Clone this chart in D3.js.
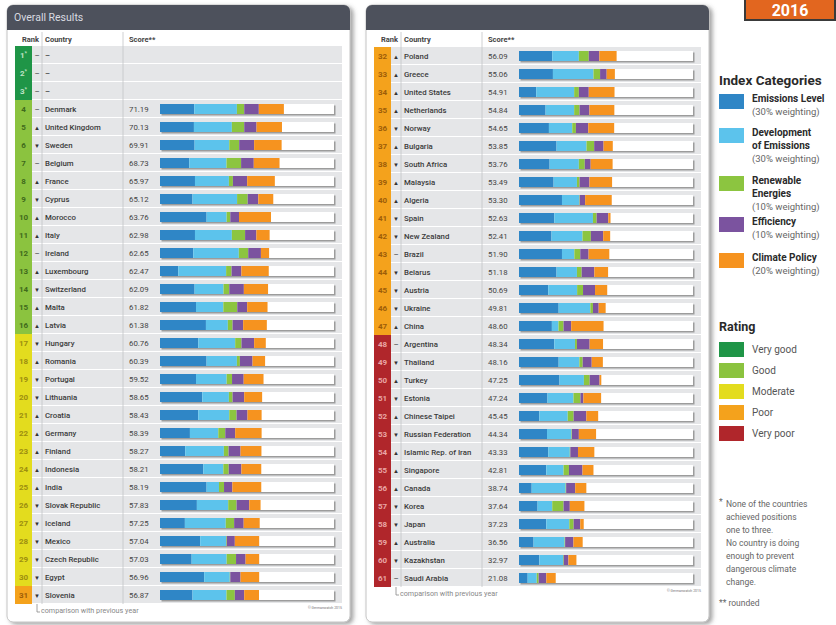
<!DOCTYPE html>
<html>
<head>
<meta charset="utf-8">
<script src="https://cdn.jsdelivr.net/npm/d3@7"></script>
<style>
  body { margin: 0; background: #fff; }
  text { font-family: Roboto, "Open Sans", sans-serif; }
</style>
</head>
<body>
<div id="chart"></div>
<script>
const rankLabels = ["1*","2*","3*","4","5","6","7","8","9","10","11","12","13","14","15","16","17","18","19","20",
  "21","22","23","24","25","26","27","28","29","30","31","32","33","34","35","36","37","38","39","40",
  "41","42","43","44","45","46","47","48","49","50","51","52","53","54","55","56","57","58","59","60","61"];

const countries = ["–","–","–","Denmark","United Kingdom","Sweden","Belgium","France","Cyprus","Morocco","Italy",
  "Ireland","Luxembourg","Switzerland","Malta","Latvia","Hungary","Romania","Portugal","Lithuania","Croatia",
  "Germany","Finland","Indonesia","India","Slovak Republic","Iceland","Mexico","Czech Republic","Egypt","Slovenia",
  "Poland","Greece","United States","Netherlands","Norway","Bulgaria","South Africa","Malaysia","Algeria","Spain",
  "New Zealand","Brazil","Belarus","Austria","Ukraine","China","Argentina","Thailand","Turkey","Estonia",
  "Chinese Taipei","Russian Federation","Islamic Rep. of Iran","Singapore","Canada","Korea","Japan","Australia",
  "Kazakhstan","Saudi Arabia"];

// u = up, d = down, s = unchanged
const trends = ["s","s","s","s","u","d","s","u","d","u","u","s","u","d","u","u","d","u","d","d",
  "u","u","u","u","u","d","d","d","d","d","d",
  "u","u","u","u","d","u","d","u","u","d","d","s","d","d","d","u","s","d","u","d",
  "u","d","u","u","u","d","d","u","d","s"];

const scores = [null,null,null,71.19,70.13,69.91,68.73,65.97,65.12,63.76,62.98,62.65,62.47,62.09,61.82,61.38,
  60.76,60.39,59.52,58.65,58.43,58.39,58.27,58.21,58.19,57.83,57.25,57.04,57.03,56.96,56.87,
  56.09,55.06,54.91,54.84,54.65,53.85,53.76,53.49,53.30,52.63,52.41,51.90,51.18,50.69,49.81,48.60,
  48.34,48.16,47.25,47.24,45.45,44.34,43.33,42.81,38.74,37.64,37.23,36.56,32.97,21.08];

const emissionsLevel = [null,null,null,19.7,19.5,19.9,16.8,20.1,18.7,26.8,20.1,19.1,10.5,19.9,20.7,26.4,22.0,26.8,
  20.7,24.3,22.0,17.2,14.5,24.9,26.8,21.2,14.3,23.1,18.2,25.4,18.7,
  19.1,19.5,9.9,15.3,17.2,21.6,17.6,19.9,24.7,20.3,18.7,24.7,21.6,16.8,22.8,18.9,20.3,22.8,23.3,16.4,
  11.7,16.1,16.8,15.7,7.3,10.7,15.7,8.4,11.7,5.0];
const emissionsDev = [null,null,null,24.5,21.8,19.9,21.4,19.5,25.6,11.5,21.2,26.2,27.5,16.6,15.7,12.6,21.2,17.4,
  17.6,15.3,17.8,16.3,22.2,11.5,7.1,18.0,23.5,14.9,20.1,14.7,19.5,
  15.3,23.3,21.8,16.4,13.4,17.2,16.8,13.4,9.9,22.2,17.8,7.1,11.7,16.6,18.2,3.8,11.9,11.9,14.0,14.9,
  16.3,14.0,12.4,9.9,19.5,8.4,13.2,17.8,13.6,5.2];
const renewables = [null,null,null,4.2,7.1,5.7,8.4,2.3,6.1,2.1,7.6,5.4,3.1,3.3,8.0,2.7,3.6,1.7,
  3.1,2.1,4.2,4.0,2.7,3.1,2.9,4.8,4.8,0.4,5.4,0.3,4.8,
  5.7,3.8,2.7,3.1,2.1,4.4,3.4,1.5,0.3,2.1,4.8,3.4,2.7,3.4,1.5,2.9,1.1,1.9,3.3,4.0,
  3.4,0.3,0.3,3.1,0.3,6.5,2.5,0.3,0.4,1.1];
const efficiency = [null,null,null,8.4,7.1,8.6,7.3,8.2,6.1,5.0,6.5,7.3,5.7,8.4,5.7,6.1,7.3,7.3,
  6.7,6.7,6.3,5.7,6.9,7.3,4.8,7.3,5.5,4.6,5.5,5.9,5.4,
  6.1,3.8,5.7,5.7,7.1,5.4,3.4,5.7,3.1,6.7,7.1,4.8,7.3,6.9,3.3,4.4,7.3,5.2,5.7,1.7,
  7.3,4.0,4.4,7.8,5.2,3.6,3.8,4.8,2.7,4.4];
const climatePolicy = [null,null,null,14.4,14.6,15.8,14.8,15.9,8.6,18.4,7.6,4.7,15.7,13.9,11.7,13.6,6.7,7.2,
  11.4,10.3,8.1,15.2,12.0,11.4,16.6,6.5,9.2,14.0,7.8,10.7,8.5,
  9.9,4.7,14.8,14.3,14.9,5.3,12.6,13.0,15.3,1.3,4.0,11.9,7.9,7.0,4.0,18.6,7.7,6.4,1.0,10.2,
  6.8,9.9,9.4,6.3,6.4,8.4,2.0,5.3,4.6,5.4];

const categoryKeys = ["emis","dev","ren","eff","pol"];
const categoryLines = [["Emissions Level"],["Development","of Emissions"],["Renewable","Energies"],["Efficiency"],["Climate Policy"]];
const categoryWeights = ["(30% weighting)","(30% weighting)","(10% weighting)","(10% weighting)","(20% weighting)"];
const categoryColors = ["#2f86c6","#5cc3ec","#8cc540","#7b539f","#f6931f"];

const ratingNames = ["Very good","Good","Moderate","Poor","Very poor"];
const ratingColors = ["#1f9547","#8bc33f","#e3dc1e","#f4a21c","#b0262b"];
const ratingTextColors = ["#bfe3c6","#3f6a1c","#9c8e10","#9d5d08","#eaa6a6"];
const ratingLastRank = [3,16,30,47,61];

const footnotes = ["None of the countries","achieved positions","one to three.","No country is doing",
  "enough to prevent","dangerous climate","change."];

// ---- build rows ----
const rows = countries.map((c, i) => ({
  rank: rankLabels[i], trend: trends[i], country: c, score: scores[i],
  emis: emissionsLevel[i], dev: emissionsDev[i], ren: renewables[i], eff: efficiency[i], pol: climatePolicy[i],
  rating: ratingLastRank.findIndex(r => i + 1 <= r)
}));

const W = 836, H = 625, rowH = 18;
const svg = d3.select("#chart").append("svg").attr("width", W).attr("height", H);

const filt = svg.append("defs").append("filter").attr("id", "shadow")
  .attr("x", "-5%").attr("y", "-5%").attr("width", "115%").attr("height", "115%");
filt.append("feDropShadow").attr("dx", 3).attr("dy", 2).attr("stdDeviation", 2)
  .attr("flood-color", "#555").attr("flood-opacity", 0.55);

const series = d3.stack().keys(categoryKeys).value((d, k) => d[k] || 0);

function drawPanel(data, px, top, title) {
  const g = svg.append("g");
  const pw = 343;
  g.append("rect").attr("x", px).attr("y", 5).attr("width", pw).attr("height", 617).attr("rx", 6)
    .attr("fill", "#fff").attr("stroke", "#c4c4c4").attr("filter", "url(#shadow)");
  g.append("rect").attr("x", px).attr("y", 5).attr("width", pw).attr("height", 25).attr("rx", 6).attr("fill", "#4d515c");
  g.append("rect").attr("x", px).attr("y", 17).attr("width", pw).attr("height", 13).attr("fill", "#4d515c");
  if (title) g.append("text").attr("x", px + 7).attr("y", 21).attr("fill", "#d9dbe0")
    .attr("font-size", 10.5).text(title);

  const y = d3.scaleBand().domain(data.map(d => d.rank)).range([top, top + data.length * rowH]);
  const x = d3.scaleLinear().domain([0, 100]).range([px + 153, px + 327]);
  const bottom = top + data.length * rowH;

  // column headers
  const hdr = [["Rank", px + 15], ["Country", px + 38], ["Score**", px + 122]];
  g.selectAll(".hdr").data(hdr).join("text").attr("x", d => d[1]).attr("y", 42)
    .attr("font-size", 7.5).attr("font-weight", 700).attr("fill", "#444").text(d => d[0]);

  const row = g.selectAll(".row").data(data).join("g").attr("transform", d => `translate(0,${y(d.rank)})`);
  row.append("rect").attr("x", px + 8).attr("width", 327).attr("height", rowH).attr("fill", "#e5e6e8");
  row.append("rect").attr("x", px + 8).attr("y", rowH - 1).attr("width", 327).attr("height", 1).attr("fill", "#fff");
  row.append("rect").attr("x", px + 8).attr("width", 17).attr("height", rowH).attr("fill", d => ratingColors[d.rating]);
  const rt = row.append("text").attr("x", px + 16.5).attr("y", rowH / 2 + 3).attr("text-anchor", "middle")
    .attr("font-size", 8).attr("font-weight", 700).attr("fill", d => ratingTextColors[d.rating]);
  rt.append("tspan").text(d => d.rank.replace("*", ""));
  rt.filter(d => d.rank.includes("*")).append("tspan").attr("font-size", 5.5).attr("dy", -3).text("*");
  row.append("text").attr("x", px + 30).attr("y", rowH / 2 + 3).attr("text-anchor", "middle")
    .attr("font-size", d => d.trend === "s" ? 8 : 6).attr("fill", "#333")
    .text(d => d.trend === "u" ? "▲" : d.trend === "d" ? "▼" : "–");
  row.append("text").attr("x", px + 38).attr("y", rowH / 2 + 3).attr("font-size", 7.8).attr("font-weight", 500)
    .attr("fill", "#3a3a3a").text(d => d.country);

  const scored = row.filter(d => d.score != null);
  scored.append("text").attr("x", px + 122).attr("y", rowH / 2 + 3).attr("font-size", 7.8).attr("fill", "#444")
    .text(d => d.score.toFixed(2));
  scored.append("rect").attr("x", x(0) + 1.5).attr("y", rowH / 2 - 5 + 1.5).attr("width", x(100) - x(0))
    .attr("height", 10).attr("fill", "#9c9c9c");
  scored.append("rect").attr("x", x(0)).attr("y", rowH / 2 - 5).attr("width", x(100) - x(0))
    .attr("height", 10).attr("fill", "#fff");

  // stacked category bars
  const stacked = series(data.filter(d => d.score != null));
  g.selectAll(".layer").data(stacked).join("g").attr("fill", (d, i) => categoryColors[i])
    .selectAll("rect").data(d => d).join("rect")
    .attr("x", d => x(d[0])).attr("width", d => x(d[1]) - x(d[0]))
    .attr("y", d => y(d.data.rank) + rowH / 2 - 5).attr("height", 10);

  // column separators
  [px + 35, px + 116].forEach(cx => g.append("line").attr("x1", cx).attr("x2", cx).attr("y1", 32).attr("y2", bottom)
    .attr("stroke", "#c3c4c7").attr("stroke-width", 0.8));

  // footer
  g.append("path").attr("d", `M${px + 30},${bottom} V${bottom + 8} H${px + 33}`).attr("fill", "none")
    .attr("stroke", "#888").attr("stroke-width", 0.8);
  g.append("text").attr("x", px + 34).attr("y", bottom + 9).attr("font-size", 7.2).attr("fill", "#888")
    .text("comparison with previous year");
  g.append("text").attr("x", px + 335).attr("y", bottom + 5).attr("text-anchor", "end").attr("font-size", 3.5)
    .attr("fill", "#777").text("© Germanwatch 2015");
}

drawPanel(rows.slice(0, 31), 7, 46, "Overall Results");
drawPanel(rows.slice(31), 366, 47, null);

// year badge
svg.append("rect").attr("x", 745).attr("y", -4).attr("width", 90).attr("height", 24).attr("fill", "#e2661f")
  .attr("stroke", "#3a3a3a").attr("stroke-width", 2);
svg.append("text").attr("x", 790).attr("y", 16).attr("text-anchor", "middle").attr("font-size", 16)
  .attr("font-weight", 700).attr("fill", "#fff").text("2016");

// legend: index categories
const lg = svg.append("g");
lg.append("text").attr("x", 719).attr("y", 85).attr("font-size", 13.5).attr("font-weight", 700).attr("fill", "#2a2a2a")
  .text("Index Categories");
const catY = [94, 128, 176, 217, 253];
const cat = lg.selectAll(".cat").data(categoryKeys).join("g").attr("transform", (d, i) => `translate(719,${catY[i]})`);
cat.append("rect").attr("width", 25).attr("height", 15).attr("fill", (d, i) => categoryColors[i]);
cat.each(function (d, i) {
  const t = d3.select(this);
  categoryLines[i].forEach((ln, j) => t.append("text").attr("x", 33).attr("y", 8 + j * 12.5)
    .attr("font-size", 10).attr("font-weight", 700).attr("fill", "#2a2a2a").text(ln));
  t.append("text").attr("x", 33).attr("y", 8 + categoryLines[i].length * 12.5 + 0.5).attr("font-size", 9.5)
    .attr("fill", "#666").text(categoryWeights[i]);
});

// legend: rating
lg.append("text").attr("x", 719).attr("y", 331).attr("font-size", 12.5).attr("font-weight", 700).attr("fill", "#2a2a2a")
  .text("Rating");
const rat = lg.selectAll(".rat").data(ratingNames).join("g").attr("transform", (d, i) => `translate(719,${342 + i * 21})`);
rat.append("rect").attr("width", 25).attr("height", 15).attr("fill", (d, i) => ratingColors[i]);
rat.append("text").attr("x", 33).attr("y", 11).attr("font-size", 10).attr("fill", "#555").text(d => d);

// footnotes
lg.append("text").attr("x", 719).attr("y", 505).attr("font-size", 8.5).attr("fill", "#666").text("*");
lg.selectAll(".fn").data(footnotes).join("text").attr("x", 726).attr("y", (d, i) => 507 + i * 13)
  .attr("font-size", 8.5).attr("fill", "#666").text(d => d);
lg.append("text").attr("x", 719).attr("y", 606).attr("font-size", 8.5).attr("fill", "#666").text("** rounded");
</script>
</body>
</html>
